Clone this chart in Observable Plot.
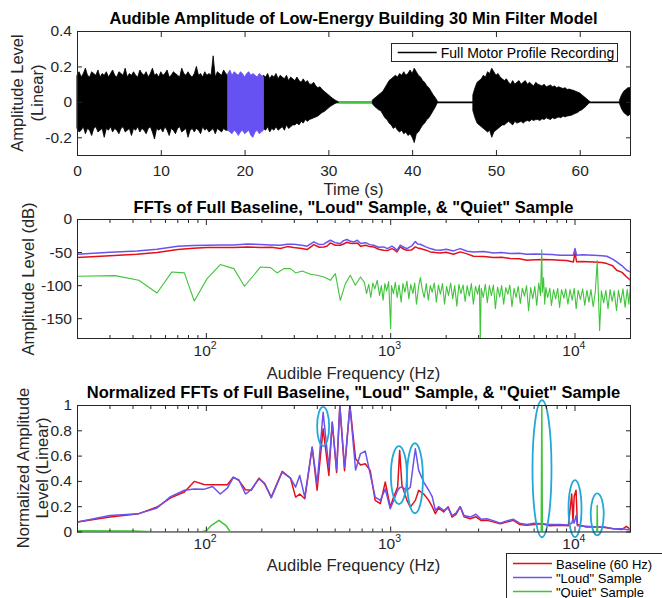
<!DOCTYPE html>
<html><head><meta charset="utf-8">
<script src="https://cdn.jsdelivr.net/npm/d3@7"></script>
<script src="https://cdn.jsdelivr.net/npm/@observablehq/plot@0.6"></script>
<style>
html,body{margin:0;padding:0;background:#fff;}
#wrap{position:relative;width:662px;height:598px;overflow:hidden;font-family:"Liberation Sans",Arial,Helvetica,sans-serif;color:#262626;}
#wrap svg{position:absolute;left:0;top:0;}
.t{position:absolute;white-space:nowrap;line-height:1;}
</style></head><body><div id="wrap"></div>
<script>
// ================= DATA =================
// --- top panel: waveform envelope (0.25 s sampling) ---
const timeTicks = [0, 10, 20, 30, 40, 50, 60];
const ampTicks = [-0.2, 0, 0.2, 0.4];
const ampLabels = ["-0.2", "0", "0.2", "0.4"];
const STEP = 0.25;
const loud1Start = 0;
const loud1Hi = [
  0.15,0.17,0.14,0.16,0.19,0.15,0.14,0.17,
  0.16,0.15,0.18,0.14,0.16,0.15,0.17,0.14,
  0.16,0.18,0.15,0.14,0.17,0.16,0.15,0.19,
  0.14,0.16,0.15,0.17,0.15,0.14,0.18,0.16,
  0.15,0.17,0.14,0.16,0.19,0.15,0.16,0.14,
  0.17,0.15,0.16,0.18,0.14,0.15,0.17,0.16,
  0.15,0.14,0.19,0.16,0.15,0.17,0.15,0.14,
  0.16,0.2,0.15,0.16,0.14,0.17,0.15,0.16,
  0.15,0.26,0.14,0.17,0.16,0.15,0.18,0.16,
  0.15];
const loud1Lo = [
  -0.15,-0.17,-0.16,-0.14,-0.18,-0.15,-0.16,-0.19,
  -0.15,-0.14,-0.17,-0.16,-0.15,-0.2,-0.15,-0.16,
  -0.14,-0.17,-0.15,-0.16,-0.18,-0.15,-0.14,-0.17,
  -0.16,-0.15,-0.19,-0.15,-0.16,-0.14,-0.17,-0.15,
  -0.16,-0.18,-0.15,-0.14,-0.17,-0.21,-0.15,-0.16,
  -0.15,-0.17,-0.14,-0.16,-0.19,-0.15,-0.16,-0.18,
  -0.15,-0.14,-0.17,-0.16,-0.15,-0.2,-0.16,-0.15,
  -0.17,-0.15,-0.16,-0.18,-0.14,-0.16,-0.15,-0.17,
  -0.16,-0.15,-0.18,-0.15,-0.16,-0.17,-0.15,-0.16,
  -0.16];
const loudSampleStart = 18;
const loudSampleHi = [0.16,0.18,0.15,0.17,0.16,0.15,0.17,0.16,0.14,0.16,0.17,0.15,0.16,0.15,0.14,0.16,0.15,0.14];
const loudSampleLo = [-0.16,-0.17,-0.18,-0.16,-0.17,-0.19,-0.17,-0.16,-0.18,-0.17,-0.16,-0.19,-0.2,-0.17,-0.16,-0.18,-0.17,-0.16];
const loud2Start = 22.25;
const loud2Hi = [
  0.15,0.14,0.16,0.13,0.15,0.14,0.16,
  0.13,0.15,0.14,0.13,0.15,0.12,0.14,0.13,
  0.12,0.14,0.12,0.11,0.13,0.11,0.12,0.1,
  0.1,0.11,0.09,0.08,0.085,0.07,0.06,0.05,
  0.04,0.03,0.02,0.012,0.005,0];
const loud2Lo = [
  -0.15,-0.16,-0.14,-0.17,-0.15,-0.16,-0.14,
  -0.16,-0.15,-0.14,-0.16,-0.13,-0.15,-0.14,-0.13,
  -0.13,-0.12,-0.13,-0.11,-0.12,-0.1,-0.11,-0.1,
  -0.095,-0.09,-0.085,-0.08,-0.07,-0.06,-0.055,-0.045,
  -0.035,-0.025,-0.018,-0.01,-0.004,0];
const quietSpan = [31.2, 35.2];
const burst2Start = 35.25;
const burst2Hi = [
  0.01,0.02,0.03,0.04,0.05,0.06,0.08,
  0.1,0.12,0.13,0.14,0.15,0.14,0.16,0.15,
  0.17,0.15,0.16,0.18,0.16,0.19,0.17,0.15,
  0.14,0.12,0.11,0.09,0.08,0.06,0.04,0.025,
  0.005];
const burst2Lo = [
  -0.01,-0.025,-0.035,-0.045,-0.05,-0.07,-0.09,
  -0.1,-0.12,-0.13,-0.15,-0.14,-0.16,-0.17,-0.16,
  -0.18,-0.17,-0.19,-0.18,-0.2,-0.23,-0.18,-0.17,
  -0.15,-0.13,-0.12,-0.1,-0.09,-0.07,-0.05,-0.03,
  -0.005];
const burst3Start = 47.25;
const burst3Hi = [
  0.04,0.08,0.11,0.12,0.13,0.15,0.14,
  0.17,0.16,0.19,0.17,0.15,0.16,0.14,0.13,
  0.12,0.13,0.11,0.1,0.12,0.1,0.11,0.12,
  0.1,0.11,0.12,0.1,0.11,0.1,0.09,0.11,
  0.1,0.095,0.09,0.1,0.085,0.09,0.095,0.085,
  0.09,0.08,0.085,0.08,0.075,0.08,0.07,0.072,
  0.068,0.065,0.06,0.055,0.05,0.04,0.03,0.02,
  0.01,0];
const burst3Lo = [
  -0.05,-0.09,-0.12,-0.13,-0.14,-0.15,-0.16,
  -0.17,-0.16,-0.2,-0.17,-0.16,-0.15,-0.14,-0.13,
  -0.13,-0.12,-0.11,-0.12,-0.13,-0.11,-0.12,-0.115,
  -0.11,-0.12,-0.11,-0.105,-0.11,-0.1,-0.105,-0.1,
  -0.1,-0.105,-0.095,-0.1,-0.09,-0.095,-0.1,-0.09,
  -0.095,-0.09,-0.085,-0.09,-0.08,-0.085,-0.08,-0.078,
  -0.076,-0.07,-0.065,-0.06,-0.05,-0.045,-0.035,-0.025,
  -0.012,0];
const burst4Start = 64.75;
const burst4Hi = [0.01,0.04,0.06,0.07,0.08,0.08];
const burst4Lo = [-0.01,-0.04,-0.06,-0.07,-0.08,-0.07];

// --- middle panel: FFT in dB ---
const freqMajor = [100, 1000, 10000];
const freqMajorExp = ["2", "3", "4"];
const freqMinor = [30,40,50,60,70,80,90,200,300,400,500,600,700,800,900,2000,3000,4000,5000,6000,7000,8000,9000];
const dbTicks = [-150, -100, -50, 0];
const dbLabels = ["-150", "-100", "-50", "0"];
const fftF = [
  20,30,42,54,70,85,101,120,141,167,
  197,225,252,275,298,330,352,383,410,434,
  452,471,500,533,555,580,605,631,660,686,
  730,770,809,860,916,960,1016,1050,1081,1127,
  1180,1226,1300,1361,1400,1448,1540,1641,1750,1858,
  2000,2193,2384,2600,2813,3200,3610,4000,4447,5000,
  5477,6100,6742,7500,8300,9000,9800,10000,10200,11000,
  12580,14000,14870,16000,16830,18000,19060,20000];
const loudDb = [
  -52.6,-49.5,-47.5,-45,-40.4,-39.5,-38.9,-38.6,-38.4,-36.9,
  -37.9,-38.5,-39,-37.5,-37.4,-39,-40.4,-33.9,-38,-37.4,
  -34,-31.4,-35,-36.4,-32,-30.3,-33,-33.9,-31.4,-36.4,
  -35,-38,-38.9,-42,-41.5,-44,-40.4,-43,-46.6,-38.9,
  -42,-44,-40,-33.4,-37,-37.4,-41,-44,-46,-46.6,
  -45,-47.5,-44,-48,-49,-48.5,-50.6,-50,-51.6,-51,
  -52.6,-52,-52.6,-53,-54.1,-54,-54,-44,-54,-53.5,
  -54.1,-55,-55.6,-60,-64.2,-70,-76.8,-79.3];
const baseDb = [
  -57.6,-55,-52.6,-50,-45.5,-43.5,-42.5,-42.5,-42.5,-41.5,
  -42.5,-42,-44,-41,-42.5,-44,-45.5,-37.9,-42,-41.5,
  -40,-35.4,-39,-38.9,-37,-34.4,-36,-36.4,-35.4,-40.4,
  -39,-41,-41.5,-45,-46.5,-47,-44,-46,-49,-41.5,
  -45,-46.5,-46,-41.5,-43,-44,-46,-49,-50,-50.6,
  -49.5,-52.6,-49,-52,-55.6,-56,-57.6,-57,-59.1,-59.5,
  -61.6,-61,-60.6,-61,-61.6,-62,-64.2,-50,-64,-63.5,
  -64.2,-65,-66.7,-70,-76.8,-80,-86.9,-91.9];
const quietF = [
  20,32,43,54,65,76,86,101,119,141,
  161,197,223,242,263,286,305,331,367,399,
  434,471,501,533,568,604,643,686,720,740,
  760,780,800,820,845,870,890,910,930,950,
  975,1000,1010,1035,1060,1085,1110,1140,1165,1195,
  1225,1255,1285,1320,1350,1380,1420,1450,1480,1520,
  1560,1600,1640,1680,1725,1770,1815,1860,1910,1960,
  2010,2060,2115,2170,2225,2285,2345,2405,2470,2535,
  2600,2670,2740,2810,2885,2960,3030,3062,3100,3180,
  3260,3345,3430,3520,3610,3700,3800,3900,4000,4100,
  4210,4320,4430,4550,4670,4790,4920,5050,5180,5320,
  5460,5600,5750,5900,6050,6200,6360,6500,6600,6650,
  6750,6850,6950,7100,7300,7450,7650,7850,8050,8250,
  8450,8700,8900,9150,9400,9650,9900,10150,10400,10700,
  11000,11300,11600,11900,12200,12550,12900,13200,13400,13600,
  13900,14300,14700,15100,15500,15900,16300,16800,17200,17700,
  18200,18700,19200,19600,19900,20000];
const quietDb = [
  -85.9,-84.9,-91.9,-111.2,-79.3,-80.8,-123.3,-89.4,-68.2,-74.3,
  -101,-71.8,-72.8,-80.8,-74.3,-74.3,-80.8,-77.8,-82.8,-84.4,
  -86.9,-92,-81.8,-122.3,-97,-84.4,-99.5,-86.9,-95,-112,
  -98,-118,-96,-105,-92,-115,-100,-122,-97,-108,
  -94,-165,-100,-112,-95,-118,-99,-125,-97,-110,
  -93,-120,-98,-112,-96,-128,-100,-88,-104,-118,
  -97,-122,-100,-110,-96,-125,-99,-113,-97,-128,
  -101,-115,-96,-120,-100,-131,-98,-112,-99,-124,
  -100,-116,-97,-128,-101,-113,-99,-182,-104,-118,
  -98,-126,-100,-115,-99,-135,-102,-117,-100,-128,
  -103,-113,-99,-132,-104,-118,-101,-127,-104,-116,
  -100,-138,-103,-120,-101,-130,-96,-115,-46,-110,
  -88,-128,-103,-118,-104,-130,-106,-120,-104,-133,
  -106,-119,-105,-128,-106,-122,-104,-135,-107,-121,
  -105,-130,-107,-125,-106,-132,-108,-62,-115,-168,
  -108,-126,-107,-135,-106,-124,-108,-138,-107,-126,
  -105,-133,-106,-128,-105,-54];

// --- bottom panel: normalized FFT ---
const normTicks = [0, 0.2, 0.4, 0.6, 0.8, 1];
const normLabels = ["0", "0.2", "0.4", "0.6", "0.8", "1"];
const normF = [
  20,30,43,54,64,76,86,97,108,119,
  130,140,150,163,175,193,207,225,258,286,
  305,321,342,375,399,430,462,482,509,530,
  562,601,645,686,728,774,824,879,935,995,
  1038,1091,1119,1151,1226,1278,1361,1419,1511,1608,
  1680,1747,1820,1938,2050,2151,2260,2384,2500,2703,
  2900,3100,3327,3600,3929,4300,4637,5000,5477,6000,
  6606,7300,8300,9200,9600,9750,9900,10130,10300,11500,
  13200,14500,16120,18000,19000,20000];
const baseNorm = [
  0.079,0.118,0.145,0.197,0.27,0.316,0.40,0.376,0.374,0.374,
  0.374,0.434,0.408,0.334,0.33,0.426,0.38,0.276,0.479,0.426,
  0.276,0.30,0.263,0.67,0.33,0.816,0.447,0.868,0.47,1.0,
  0.485,1.0,0.58,0.53,0.54,0.487,0.25,0.224,0.395,0.197,
  0.276,0.355,0.645,0.37,0.25,0.197,0.25,0.33,0.30,0.25,
  0.2,0.145,0.19,0.158,0.2,0.118,0.14,0.2,0.12,0.105,
  0.12,0.09,0.092,0.08,0.066,0.08,0.092,0.06,0.053,0.06,
  0.066,0.05,0.053,0.05,0.30,0.08,0.28,0.33,0.06,0.04,
  0.04,0.035,0.026,0.02,0.045,0.02];
const loudNorm = [
  0.079,0.13,0.145,0.19,0.28,0.33,0.34,0.337,0.36,0.30,
  0.347,0.43,0.413,0.30,0.334,0.42,0.387,0.27,0.474,0.426,
  0.355,0.447,0.276,0.67,0.38,0.947,0.51,0.868,0.49,1.0,
  0.51,1.0,0.49,0.62,0.64,0.46,0.276,0.25,0.34,0.184,
  0.25,0.33,0.35,0.355,0.33,0.355,0.658,0.487,0.395,0.33,
  0.28,0.171,0.2,0.171,0.19,0.13,0.15,0.2,0.13,0.118,
  0.14,0.1,0.105,0.09,0.07,0.09,0.1,0.07,0.06,0.07,
  0.066,0.06,0.06,0.055,0.07,0.1,0.07,0.13,0.05,0.045,
  0.04,0.04,0.026,0.025,0.02,0.015];
const quietNormF = [20,40,55,93,100,106,117,128,135,6560,6606,6650,13150,13200,13250,19950,20000];
const quietNorm  = [0.01,0.008,0,0,0.01,0.05,0.092,0.05,0,0,1.0,0,0,0.21,0,0,0.49];
// highlighted peaks (ellipse centres)
const ellF = [430, 1108, 1354, 6620, 10000, 13200];
const ellV = [0.835, 0.45, 0.425, 0.5, 0.185, 0.14];
const legendLabels = ["Baseline (60 Hz)", "\"Loud\" Sample", "\"Quiet\" Sample"];

// ================= STYLE =================
const W = 662, H = 598, L = 77, R = 630;
const INK = "#262626", BLACK = "#000", RED = "#e3101a", BLUE = "#6b52ec", BAND = "#6652f2", GREEN = "#40c43a", CYAN = "#22a8d8";
const FONT = "'Liberation Sans', Arial, Helvetica, sans-serif";
const ellRx = [6, 8, 8, 9.5, 6.5, 6.5];   // px
const ellRy = [19.5, 29, 35, 68.5, 28.5, 21];

const seg = (t0, hi, lo) => hi.map((h, i) => ({t: t0 + i * STEP, hi: h, lo: lo[i]}));
const rows = (xs, ys) => xs.map((x, i) => ({x, y: ys[i]}));

function ellipseSymbol(rx, ry) {
  const k = 0.5523;
  return {draw(c) {
    c.moveTo(rx, 0);
    c.bezierCurveTo(rx, k * ry, k * rx, ry, 0, ry);
    c.bezierCurveTo(-k * rx, ry, -rx, k * ry, -rx, 0);
    c.bezierCurveTo(-rx, -k * ry, -k * rx, -ry, 0, -ry);
    c.bezierCurveTo(k * rx, -ry, rx, -k * ry, rx, 0);
    c.closePath();
  }};
}

const baseOpts = (top, bottom) => ({
  width: W, height: H, marginTop: top, marginBottom: H - bottom, marginLeft: L, marginRight: W - R,
  style: {background: "transparent", fontFamily: FONT, fontSize: "15.5px", color: INK, overflow: "visible"}
});

function frameTicksX(ticks, size) {
  return [
    Plot.axisX(ticks, {anchor: "bottom", tickSize: -size, tickFormat: () => "", label: null}),
    Plot.axisX(ticks, {anchor: "top", tickSize: -size, tickFormat: () => "", label: null})
  ];
}
function frameTicksY(ticks, labels) {
  return [
    Plot.axisY(ticks, {anchor: "left", tickSize: -5, tickFormat: () => "", label: null}),
    Plot.axisY(ticks, {anchor: "right", tickSize: -5, tickFormat: () => "", label: null}),
    Plot.axisY(ticks, {anchor: "left", tickSize: 0, tickPadding: 5.5, tickFormat: (d) => labels[ticks.indexOf(d)], label: null})
  ];
}
function logAxis() {
  return [
    ...frameTicksX(freqMajor, 5),
    ...frameTicksX(freqMinor, 3),
    Plot.text(freqMajor, {x: d => d, frameAnchor: "bottom", text: () => "10", textAnchor: "end", dx: 4.5, dy: 17, fontSize: 15.5, fill: INK}),
    Plot.text(freqMajor, {x: d => d, frameAnchor: "bottom", text: (d, i) => freqMajorExp[i], textAnchor: "start", dx: 4.5, dy: 10, fontSize: 10.5, fill: INK})
  ];
}

// ================= TOP PANEL =================
const wrap = document.getElementById("wrap");
const blackSegs = [
  seg(loud1Start, loud1Hi, loud1Lo),
  seg(loud2Start, loud2Hi, loud2Lo),
  seg(burst2Start, burst2Hi, burst2Lo),
  seg(burst3Start, burst3Hi, burst3Lo),
  seg(burst4Start, burst4Hi, burst4Lo)
];
const p1 = Plot.plot({
  ...baseOpts(31, 155),
  x: {domain: [0, 66]},
  y: {domain: [-0.3, 0.4]},
  marks: [
    Plot.ruleY([0], {stroke: BLACK, strokeWidth: 1.8}),
    ...blackSegs.map(s => Plot.areaY(s, {x: "t", y1: "lo", y2: "hi", fill: BLACK, stroke: BLACK, strokeWidth: 0.8})),
    Plot.areaY(seg(loudSampleStart, loudSampleHi, loudSampleLo), {x: "t", y1: "lo", y2: "hi", fill: BAND, stroke: BAND, strokeWidth: 0.8}),
    Plot.ruleY([0], {x1: quietSpan[0], x2: quietSpan[1], stroke: GREEN, strokeWidth: 2.5}),
    Plot.frame({stroke: INK}),
    ...frameTicksX(timeTicks, 5),
    Plot.axisX(timeTicks, {anchor: "bottom", tickSize: 0, tickPadding: 9, tickFormat: d => String(d), label: null}),
    ...frameTicksY(ampTicks, ampLabels)
  ]
});
wrap.appendChild(p1);

// ================= MIDDLE PANEL =================
const p2 = Plot.plot({
  ...baseOpts(219, 338),
  x: {type: "log", domain: [20, 20000]},
  y: {domain: [-180, 0]},
  marks: [
    Plot.line(rows(fftF, baseDb), {x: "x", y: "y", stroke: RED, strokeWidth: 1.5, clip: true}),
    Plot.line(rows(fftF, loudDb), {x: "x", y: "y", stroke: BLUE, strokeWidth: 1.5, clip: true}),
    Plot.line(rows(quietF, quietDb), {x: "x", y: "y", stroke: GREEN, strokeWidth: 1.1, clip: true}),
    Plot.frame({stroke: INK}),
    ...logAxis(),
    ...frameTicksY(dbTicks, dbLabels)
  ]
});
wrap.appendChild(p2);

// ================= BOTTOM PANEL =================
const p3 = Plot.plot({
  ...baseOpts(405, 531.5),
  x: {type: "log", domain: [20, 20000]},
  y: {domain: [0, 1]},
  marks: [
    Plot.line(rows(normF, baseNorm), {x: "x", y: "y", stroke: RED, strokeWidth: 1.5, clip: true}),
    Plot.line(rows(normF, loudNorm), {x: "x", y: "y", stroke: BLUE, strokeWidth: 1.5, clip: true}),
    Plot.line(rows(quietNormF, quietNorm), {x: "x", y: "y", stroke: GREEN, strokeWidth: 1.5, clip: true}),
    ...ellF.map((f, i) => Plot.dot([i], {x: () => f, y: () => ellV[i], symbol: ellipseSymbol(ellRx[i], ellRy[i]), fill: "none", stroke: CYAN, strokeWidth: 1.8})),
    Plot.frame({stroke: INK}),
    ...logAxis(),
    ...frameTicksY(normTicks, normLabels)
  ]
});
wrap.appendChild(p3);

// ================= TEXT =================
function txt(s, x, y, {size = 16.5, weight = "normal", rot = 0, color = INK} = {}) {
  const d = document.createElement("div");
  d.className = "t";
  d.textContent = s;
  d.style.left = x + "px"; d.style.top = y + "px";
  d.style.fontSize = size + "px"; d.style.fontWeight = weight; d.style.color = color;
  d.style.transform = `translate(-50%,-50%)` + (rot ? ` rotate(${rot}deg)` : "");
  wrap.appendChild(d);
}
const cx = (L + R) / 2;
txt("Audible Amplitude of Low-Energy Building 30 Min Filter Model", cx, 18, {weight: "bold", color: "#000"});
txt("FFTs of Full Baseline, \"Loud\" Sample, & \"Quiet\" Sample", cx, 207, {weight: "bold", color: "#000"});
txt("Normalized FFTs of Full Baseline, \"Loud\" Sample, & \"Quiet\" Sample", cx, 392, {weight: "bold", color: "#000"});
txt("Time (s)", cx, 189);
txt("Audible Frequency (Hz)", cx, 373);
txt("Audible Frequency (Hz)", cx, 565);
txt("Amplitude Level", 17, 93, {rot: -90});
txt("(Linear)", 37, 93, {rot: -90});
txt("Amplitude Level (dB)", 28, 278.5, {rot: -90});
txt("Normalized Amplitude", 23, 468, {rot: -90});
txt("Level (Linear)", 42, 468, {rot: -90});

// ================= LEGENDS =================
function legend(x, y, w, h, items, rowY, fs) {
  const box = document.createElement("div");
  Object.assign(box.style, {position: "absolute", left: x + "px", top: y + "px", width: w + "px", height: h + "px",
    border: "1px solid " + INK, background: "#fff", boxSizing: "border-box"});
  wrap.appendChild(box);
  const ns = "http://www.w3.org/2000/svg";
  const svg = document.createElementNS(ns, "svg");
  svg.setAttribute("width", W); svg.setAttribute("height", H);
  svg.style.pointerEvents = "none";
  items.forEach((it, i) => {
    const ln = document.createElementNS(ns, "line");
    ln.setAttribute("x1", x + 7); ln.setAttribute("x2", x + 46);
    ln.setAttribute("y1", rowY[i]); ln.setAttribute("y2", rowY[i]);
    ln.setAttribute("stroke", it.color); ln.setAttribute("stroke-width", 1.5);
    svg.appendChild(ln);
    const t = document.createElement("div");
    t.className = "t";
    t.textContent = it.label;
    Object.assign(t.style, {left: (x + 50) + "px", top: rowY[i] + "px", fontSize: fs + "px", color: "#000", transform: "translate(0,-50%)"});
    wrap.appendChild(t);
  });
  wrap.appendChild(svg);
}
legend(390.7, 43.3, 227, 18.6, [{label: "Full Motor Profile Recording", color: BLACK}], [52.5], 14);
legend(506, 553, 200, 60, [
  {label: legendLabels[0], color: RED},
  {label: legendLabels[1], color: BLUE},
  {label: legendLabels[2], color: GREEN}
], [563.5, 577.5, 591.5], 13);
</script></body></html>
